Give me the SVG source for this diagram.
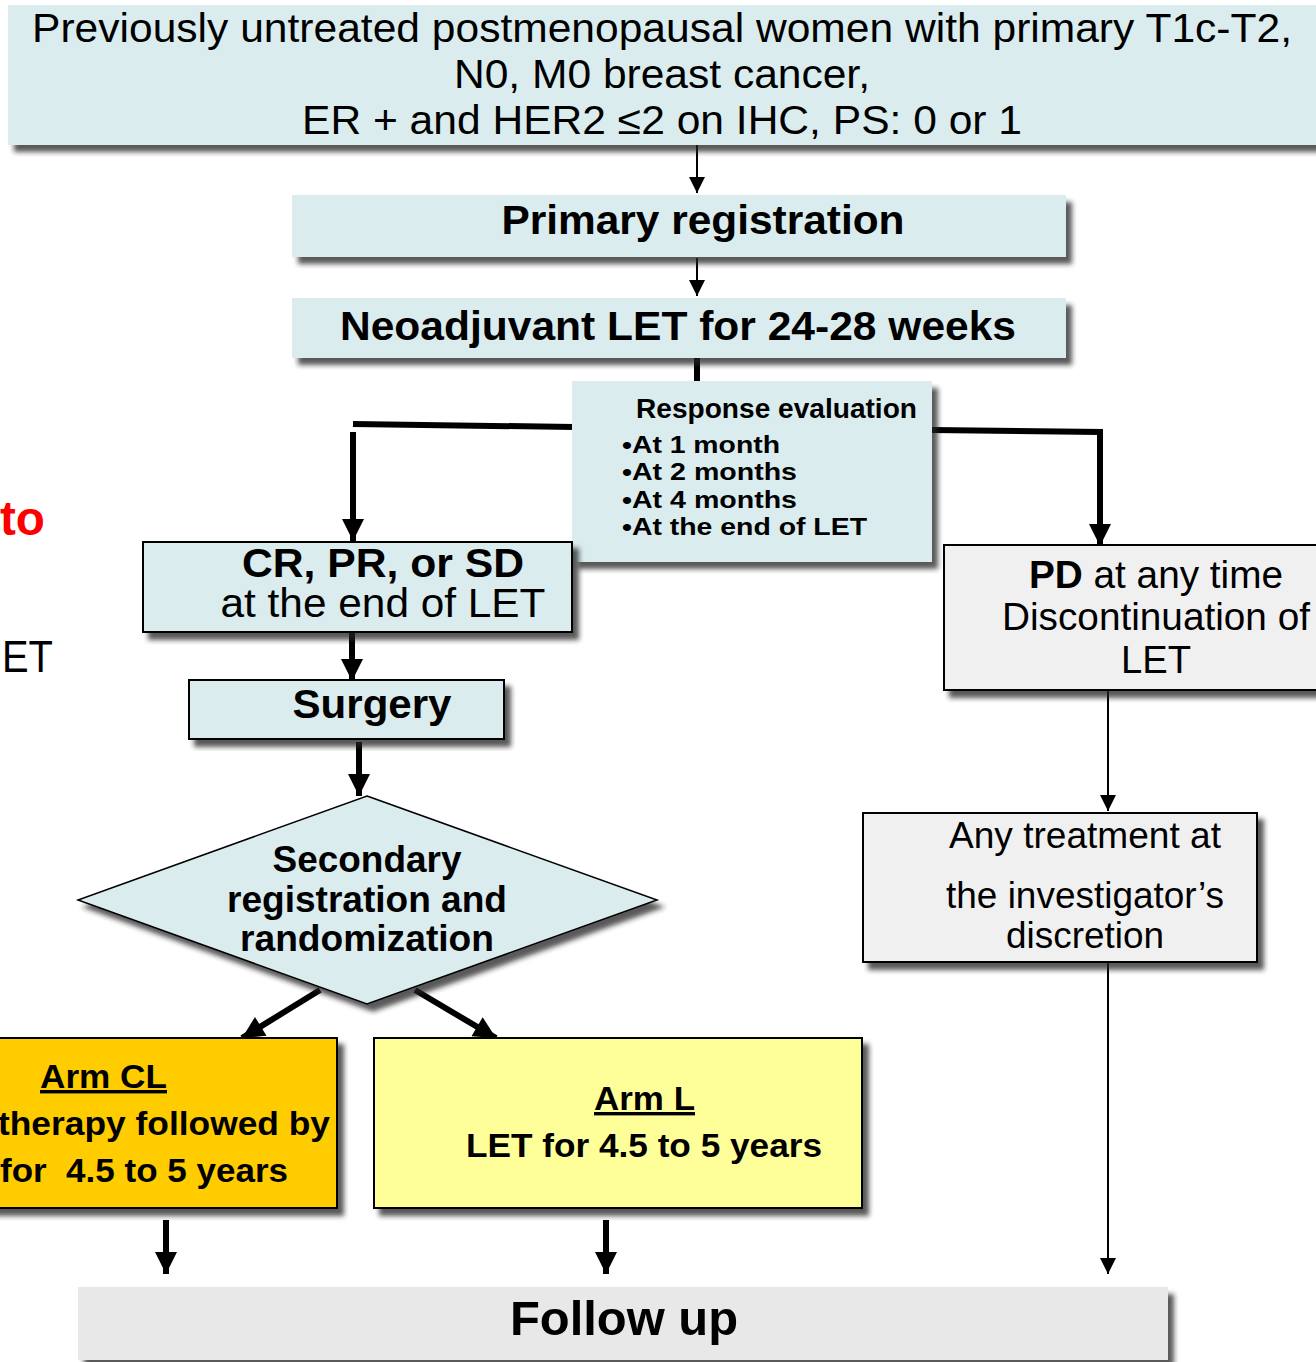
<svg xmlns="http://www.w3.org/2000/svg" width="1316" height="1362" viewBox="0 0 1316 1362">
<defs>
<filter id="sh" x="-5%" y="-10%" width="115%" height="130%">
<feDropShadow dx="6" dy="7" stdDeviation="2.5" flood-color="#222" flood-opacity="0.75"/>
</filter>
<marker id="ah" viewBox="0 0 10 10" refX="10" refY="5" markerWidth="16" markerHeight="18" markerUnits="userSpaceOnUse" orient="auto">
<path d="M0,0 L10,5 L0,10 Z" fill="#000"/>
</marker>
<marker id="ahb" viewBox="0 0 10 10" refX="10" refY="5" markerWidth="26" markerHeight="22" markerUnits="userSpaceOnUse" orient="auto">
<path d="M0,0 L10,5 L0,10 Z" fill="#000"/>
</marker>
</defs>
<style>
text{font-family:"Liberation Sans",Arial,sans-serif;fill:#000}
.b{font-weight:bold}
.cy{fill:#daeced}
.gr{fill:#f0f0f0}
.bd{stroke:#000;stroke-width:2}
.thin{stroke:#000;stroke-width:2;fill:none}
.thick{stroke:#000;stroke-width:6;fill:none}
</style>
<rect width="1316" height="1362" fill="#fff"/>

<g id="stray">
<text x="0" y="535" font-size="48" class="b" style="fill:#ff0000" textLength="45" lengthAdjust="spacingAndGlyphs">to</text>
<text x="2" y="672" font-size="44" font-family="Noto Sans, sans-serif" textLength="51" lengthAdjust="spacingAndGlyphs">ET</text>
</g>

<g id="connectors">
<line class="thin" x1="697" y1="145" x2="697" y2="193" marker-end="url(#ah)"/>
<line class="thin" x1="697" y1="258" x2="697" y2="296" marker-end="url(#ah)"/>
<line class="thick" x1="697" y1="358" x2="697" y2="382"/>
<polyline class="thick" points="574,427 353,424"/>
<line class="thick" x1="353" y1="432" x2="353" y2="541" marker-end="url(#ahb)"/>
<polyline class="thick" points="932,430 1100,432 1100,546" marker-end="url(#ahb)"/>
<line class="thick" x1="352" y1="633" x2="352" y2="681" marker-end="url(#ahb)"/>
<line class="thick" x1="359" y1="742" x2="359" y2="796" marker-end="url(#ahb)"/>
<line class="thick" x1="320" y1="990" x2="242" y2="1038" marker-end="url(#ahb)"/>
<line class="thick" x1="415" y1="990" x2="496" y2="1038" marker-end="url(#ahb)"/>
<line class="thick" x1="166" y1="1220" x2="166" y2="1274" marker-end="url(#ahb)"/>
<line class="thick" x1="606" y1="1220" x2="606" y2="1274" marker-end="url(#ahb)"/>
<line class="thin" x1="1108" y1="691" x2="1108" y2="811" marker-end="url(#ah)"/>
<line class="thin" x1="1108" y1="962" x2="1108" y2="1274" marker-end="url(#ah)"/>
</g>

<g id="eligibility">
<rect class="cy" x="8" y="5" width="1320" height="140" filter="url(#sh)"/>
<text x="662" y="42" font-size="40" text-anchor="middle" textLength="1260" lengthAdjust="spacingAndGlyphs">Previously untreated postmenopausal women with primary T1c-T2,</text>
<text x="662" y="88" font-size="40" text-anchor="middle" textLength="416" lengthAdjust="spacingAndGlyphs">N0, M0 breast cancer,</text>
<text x="662" y="134" font-size="40" text-anchor="middle" textLength="720" lengthAdjust="spacingAndGlyphs">ER + and HER2 ≤2 on IHC, PS: 0 or 1</text>
</g>

<g id="primary">
<rect class="cy" x="292" y="195" width="774" height="62" filter="url(#sh)"/>
<text x="703" y="234" font-size="40" class="b" text-anchor="middle" textLength="403" lengthAdjust="spacingAndGlyphs">Primary registration</text>
</g>

<g id="neoadjuvant">
<rect class="cy" x="292" y="298" width="774" height="60" filter="url(#sh)"/>
<text x="678" y="340" font-size="40" class="b" text-anchor="middle" textLength="676" lengthAdjust="spacingAndGlyphs">Neoadjuvant LET for 24-28 weeks</text>
</g>

<g id="response">
<rect class="cy" x="572" y="381" width="360" height="181" filter="url(#sh)"/>
<text x="636" y="418" font-size="27" class="b" textLength="281" lengthAdjust="spacingAndGlyphs">Response evaluation</text>
<text x="622" y="453" font-size="24" class="b" textLength="158" lengthAdjust="spacingAndGlyphs">•At 1 month</text>
<text x="622" y="480" font-size="24" class="b" textLength="175" lengthAdjust="spacingAndGlyphs">•At 2 months</text>
<text x="622" y="508" font-size="24" class="b" textLength="175" lengthAdjust="spacingAndGlyphs">•At 4 months</text>
<text x="622" y="535" font-size="24" class="b" textLength="245" lengthAdjust="spacingAndGlyphs">•At the end of LET</text>
</g>

<g id="crprsd">
<rect class="cy bd" x="143" y="542" width="429" height="90" filter="url(#sh)"/>
<text x="383" y="577" font-size="40" class="b" text-anchor="middle" textLength="282" lengthAdjust="spacingAndGlyphs">CR, PR, or SD</text>
<text x="383" y="617" font-size="40" text-anchor="middle" textLength="325" lengthAdjust="spacingAndGlyphs">at the end of LET</text>
</g>

<g id="surgery">
<rect class="cy bd" x="189" y="680" width="315" height="59" filter="url(#sh)"/>
<text x="372" y="718" font-size="40" class="b" text-anchor="middle" textLength="159" lengthAdjust="spacingAndGlyphs">Surgery</text>
</g>

<g id="randomization">
<polygon class="cy" points="367,796 657,900 367,1004 78,900" stroke="#000" stroke-width="1.5" filter="url(#sh)"/>
<text x="367" y="872" font-size="36" class="b" text-anchor="middle" textLength="189" lengthAdjust="spacingAndGlyphs">Secondary</text>
<text x="367" y="912" font-size="36" class="b" text-anchor="middle" textLength="280" lengthAdjust="spacingAndGlyphs">registration and</text>
<text x="367" y="951" font-size="36" class="b" text-anchor="middle" textLength="254" lengthAdjust="spacingAndGlyphs">randomization</text>
</g>

<g id="armCL">
<rect x="-10" y="1038" width="347" height="170" fill="#ffcc00" class="bd" filter="url(#sh)"/>
<text x="40" y="1088" font-size="34" class="b" text-decoration="underline" textLength="127" lengthAdjust="spacingAndGlyphs">Arm CL</text>
<text x="-2" y="1135" font-size="34" class="b" textLength="332" lengthAdjust="spacingAndGlyphs">therapy followed by</text>
<text x="0" y="1182" font-size="34" class="b" textLength="288" lengthAdjust="spacingAndGlyphs" xml:space="preserve">for  4.5 to 5 years</text>
</g>

<g id="armL">
<rect x="374" y="1038" width="488" height="170" fill="#ffff99" class="bd" filter="url(#sh)"/>
<text x="594" y="1110" font-size="34" class="b" text-decoration="underline" textLength="101" lengthAdjust="spacingAndGlyphs">Arm L</text>
<text x="466" y="1157" font-size="34" class="b" textLength="356" lengthAdjust="spacingAndGlyphs">LET for 4.5 to 5 years</text>
</g>

<g id="followup">
<rect x="78" y="1287" width="1090" height="73" fill="#e8e8e8" filter="url(#sh)"/>
<text x="624" y="1335" font-size="48" class="b" text-anchor="middle" textLength="228" lengthAdjust="spacingAndGlyphs">Follow up</text>
</g>

<g id="pd">
<rect class="gr bd" x="944" y="545" width="380" height="145" filter="url(#sh)"/>
<text x="1156" y="588" font-size="38" text-anchor="middle" textLength="254" lengthAdjust="spacingAndGlyphs"><tspan class="b">PD</tspan> at any time</text>
<text x="1156" y="630" font-size="38" text-anchor="middle" textLength="308" lengthAdjust="spacingAndGlyphs">Discontinuation of</text>
<text x="1156" y="673" font-size="38" text-anchor="middle" textLength="70" lengthAdjust="spacingAndGlyphs">LET</text>
</g>

<g id="anytreatment">
<rect class="gr bd" x="863" y="813" width="394" height="149" filter="url(#sh)"/>
<text x="1085" y="848" font-size="36" text-anchor="middle" textLength="272" lengthAdjust="spacingAndGlyphs">Any treatment at</text>
<text x="1085" y="908" font-size="36" text-anchor="middle" textLength="278" lengthAdjust="spacingAndGlyphs">the investigator’s</text>
<text x="1085" y="948" font-size="36" text-anchor="middle" textLength="158" lengthAdjust="spacingAndGlyphs">discretion</text>
</g>
</svg>
